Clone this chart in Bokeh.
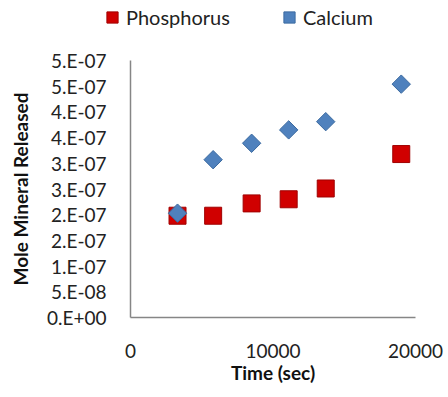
import math
from bokeh.plotting import figure
from bokeh.layouts import column
from bokeh.models import Range1d, FixedTicker, CustomJSTickFormatter, Legend, LegendItem
from bokeh.embed import file_html
from bokeh.resources import INLINE

# data (time in seconds, moles released)
time_sec = [3300, 5800, 8500, 11100, 13700, 19000]
phosphorus = [1.98e-7, 1.98e-7, 2.22e-7, 2.30e-7, 2.51e-7, 3.18e-7]
calcium = [2.03e-7, 3.07e-7, 3.39e-7, 3.65e-7, 3.81e-7, 4.54e-7]

series_names = ["Phosphorus", "Calcium"]

x_ticks = [0, 10000, 20000]
y_ticks = [0, 5e-8, 1e-7, 1.5e-7, 2e-7, 2.5e-7, 3e-7, 3.5e-7, 4e-7, 4.5e-7, 5e-7]
y_tick_labels = ["0.E+00", "5.E-08", "1.E-07", "2.E-07", "2.E-07", "3.E-07",
                 "3.E-07", "4.E-07", "4.E-07", "5.E-07", "5.E-07"]

FONT = "Lato"
P_STYLE = dict(marker="square", fill_color="#D00000", line_color="#A00000", line_width=1)
C_STYLE = dict(marker="square", angle=math.pi / 4, fill_color="#4F81BD",
               line_color="#3B6AA0", line_width=1)

# ---- legend strip (the series are plotted outside its visible range; only the legend shows) ----
lg = figure(width=448, height=40, output_backend="svg", toolbar_location=None,
            x_axis_type=None, y_axis_type=None,
            x_range=Range1d(-2, -1), y_range=Range1d(-2, -1),
            min_border_left=0, min_border_right=0, min_border_top=0, min_border_bottom=0)
lg.frame_align = False
lg.grid.visible = False
lg.outline_line_color = None
lg_p = lg.scatter(time_sec, phosphorus, size=13, **P_STYLE)
lg_c = lg.scatter(time_sec, calcium, size=11, **C_STYLE)
legend = Legend(items=[LegendItem(label=series_names[0], renderers=[lg_p]),
                       LegendItem(label=series_names[1], renderers=[lg_c])],
                orientation="horizontal", location=(98, 6),
                glyph_width=28, glyph_height=34, label_standoff=0, spacing=45,
                label_text_font=FONT, label_text_font_size="20px",
                label_text_color="#222222", background_fill_alpha=0,
                border_line_color=None, padding=0, margin=0)
lg.add_layout(legend, "center")

# ---- main chart ----
p = figure(width=448, height=357, output_backend="svg", toolbar_location=None,
           x_range=Range1d(0, 20000), y_range=Range1d(0, 5e-7),
           min_border_left=130, min_border_right=33, min_border_top=20, min_border_bottom=80)
p.frame_align = False
p.frame_width = 285
p.frame_height = 257
p.outline_line_color = None
p.grid.visible = False

p.scatter(time_sec, phosphorus, size=17, **P_STYLE)
p.scatter(time_sec, calcium, size=13, **C_STYLE)

p.xaxis.ticker = FixedTicker(ticks=x_ticks)
p.yaxis.ticker = FixedTicker(ticks=y_ticks)
p.yaxis.formatter = CustomJSTickFormatter(args=dict(labels=y_tick_labels), code="""
    const i = Math.round(tick / 5e-8);
    return labels[i];
""")

for ax in (p.xaxis, p.yaxis):
    ax.axis_line_color = "#868686"
    ax.axis_line_width = 1.5
    ax.major_tick_line_color = None
    ax.minor_tick_line_color = None
    ax.major_label_text_font = FONT
    ax.major_label_text_font_size = "19px"
    ax.major_label_text_color = "#222222"
    ax.axis_label_text_font = FONT
    ax.axis_label_text_font_style = "bold"
    ax.axis_label_text_font_size = "19px"
    ax.axis_label_text_color = "#111111"

p.xaxis.axis_label = "Time (sec)"
p.yaxis.axis_label = "Mole Mineral Released"
p.yaxis.major_label_standoff = 18
p.xaxis.major_label_standoff = 20
p.xaxis.axis_label_standoff = 0
p.yaxis.axis_label_standoff = 12

layout = column(lg, p, spacing=0)
open("out.html", "w").write(file_html(layout, INLINE))
